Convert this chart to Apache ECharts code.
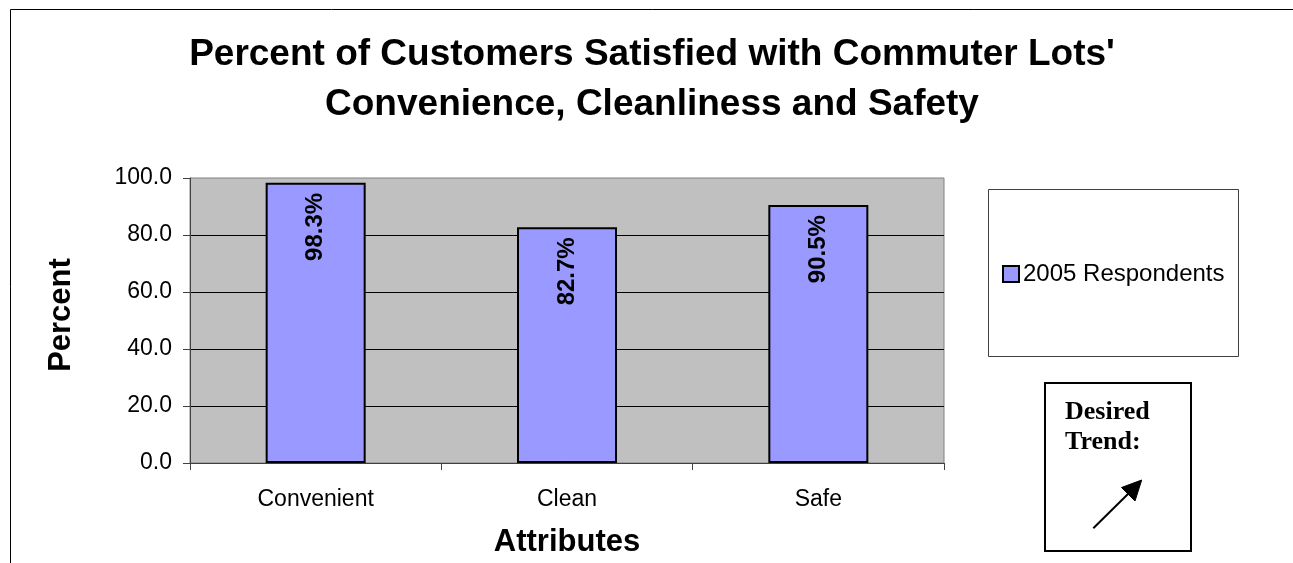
<!DOCTYPE html>
<html>
<head>
<meta charset="utf-8">
<style>
  html, body { margin: 0; padding: 0; background: #fff; }
  #chart { width: 1293px; height: 563px; }
</style>
<script src="https://cdn.jsdelivr.net/npm/echarts@6/dist/echarts.min.js"></script>
</head>
<body>
<div id="chart"></div>
<script>
// Survey results: share of customers satisfied, by attribute
const categories = ['Convenient', 'Clean', 'Safe'];
const respondents2005 = [98.3, 82.7, 90.5];
const seriesName = '2005 Respondents';
const yTicks = { min: 0, max: 100, interval: 20 };

const SANS = '"Liberation Sans", Arial, sans-serif';
const SERIF = '"Liberation Serif", "Times New Roman", serif';

const chart = echarts.init(document.getElementById('chart'));

chart.setOption({
  animation: false,
  backgroundColor: '#ffffff',
  title: {
    text: "Percent of Customers Satisfied with Commuter Lots'\nConvenience, Cleanliness and Safety",
    left: 652,
    top: 30,
    textAlign: 'center',
    padding: 0,
    textStyle: {
      fontFamily: SANS,
      fontSize: 37,
      fontWeight: 'bold',
      color: '#000',
      lineHeight: 50
    }
  },
  legend: {
    data: [seriesName],
    left: 1002,
    top: 262,
    padding: 0,
    icon: 'rect',
    itemWidth: 16,
    itemHeight: 16,
    itemGap: 5,
    itemStyle: { color: '#9999FF', borderColor: '#000', borderWidth: 2 },
    textStyle: { fontFamily: SANS, fontSize: 24, color: '#000', padding: [0, 0, 0, -1] }
  },
  grid: {
    left: 190,
    right: 349,
    top: 178,
    bottom: 100,
    show: true,
    backgroundColor: '#C0C0C0',
    borderColor: '#808080',
    borderWidth: 1
  },
  xAxis: {
    type: 'category',
    data: categories,
    name: 'Attributes',
    nameLocation: 'middle',
    nameGap: 64,
    nameTextStyle: { fontFamily: SANS, fontSize: 31, fontWeight: 'bold', color: '#000' },
    axisLine: { show: true, lineStyle: { color: '#404040', width: 1 } },
    axisTick: { show: true, alignWithLabel: false, length: 7, lineStyle: { color: '#404040' } },
    axisLabel: { fontFamily: SANS, fontSize: 23, color: '#000', margin: 25 },
    splitLine: { show: false }
  },
  yAxis: {
    type: 'value',
    min: yTicks.min,
    max: yTicks.max,
    interval: yTicks.interval,
    name: 'Percent',
    nameLocation: 'middle',
    nameRotate: 90,
    nameGap: 113,
    nameTextStyle: { fontFamily: SANS, fontSize: 31, fontWeight: 'bold', color: '#000', padding: [0, 0, 0, 11] },
    axisLine: { show: true, lineStyle: { color: '#404040', width: 1 } },
    axisTick: { show: true, length: 7, lineStyle: { color: '#404040' } },
    axisLabel: {
      fontFamily: SANS, fontSize: 23, color: '#000', margin: 18,
      formatter: v => v.toFixed(1)
    },
    splitLine: { show: true, showMinLine: false, showMaxLine: false, lineStyle: { color: '#000', width: 1 } }
  },
  series: [{
    name: seriesName,
    type: 'bar',
    data: respondents2005,
    barWidth: 100,
    itemStyle: { color: '#9999FF', borderColor: '#000', borderWidth: 2 },
    label: {
      show: true,
      position: 'insideTop',
      distance: 10,
      rotate: 90,
      align: 'right',
      verticalAlign: 'middle',
      fontFamily: SANS,
      fontSize: 24,
      fontWeight: 'bold',
      color: '#000',
      formatter: p => p.value.toFixed(1) + '%'
    }
  }],
  graphic: [
    // outer chart frame
    {
      type: 'rect', silent: true, z: -1,
      shape: { x: 10.5, y: 9.5, width: 1300, height: 600 },
      style: { fill: 'none', stroke: '#000', lineWidth: 1 }
    },
    // legend frame
    {
      type: 'rect', silent: true,
      shape: { x: 988.5, y: 189.5, width: 250, height: 167 },
      style: { fill: '#fff', stroke: '#404040', lineWidth: 1 },
      z: -1
    },
    // desired trend box
    {
      type: 'rect', silent: true,
      shape: { x: 1045, y: 383, width: 146, height: 168 },
      style: { fill: '#fff', stroke: '#000', lineWidth: 2 }
    },
    {
      type: 'text', silent: true,
      x: 1065, y: 412,
      style: { text: 'Desired', font: 'bold 26px ' + SERIF, fill: '#000', textAlign: 'left', textVerticalAlign: 'middle' }
    },
    {
      type: 'text', silent: true,
      x: 1065, y: 442,
      style: { text: 'Trend:', font: 'bold 26px ' + SERIF, fill: '#000', textAlign: 'left', textVerticalAlign: 'middle' }
    },
    {
      type: 'line', silent: true,
      shape: { x1: 1093.3, y1: 528.3, x2: 1129, y2: 493 },
      style: { stroke: '#000', lineWidth: 2 }
    },
    {
      type: 'polygon', silent: true,
      shape: { points: [[1141.7, 480], [1135, 501], [1121.5, 487.5]] },
      style: { fill: '#000', stroke: '#000', lineWidth: 1 }
    }
  ]
});
</script>
</body>
</html>
